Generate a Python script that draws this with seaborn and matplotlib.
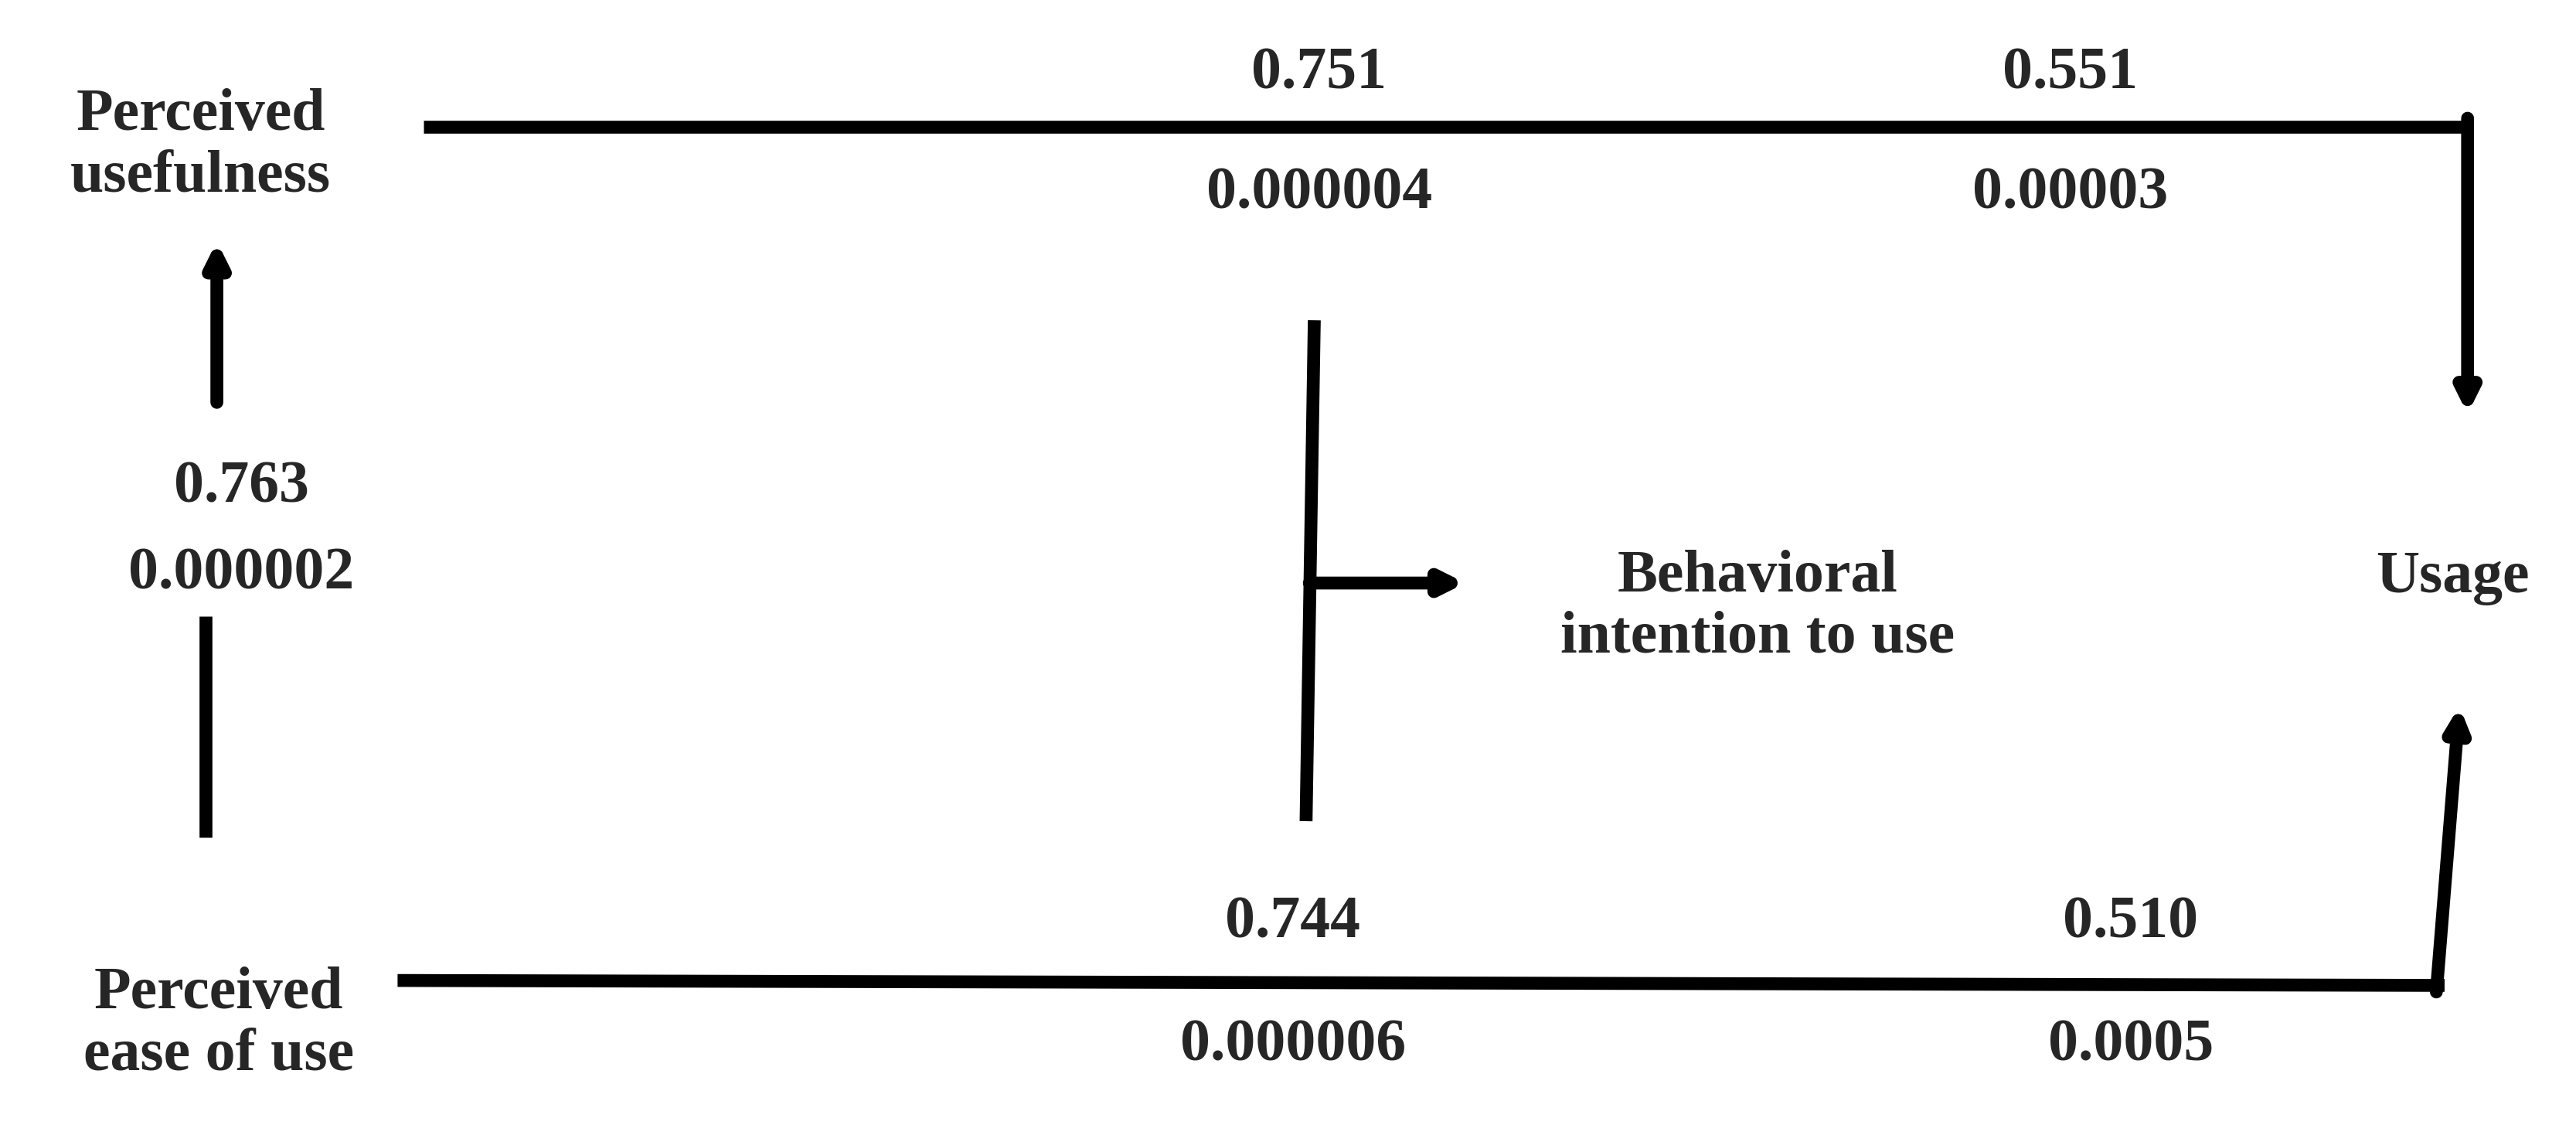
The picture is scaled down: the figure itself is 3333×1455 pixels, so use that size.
import matplotlib
matplotlib.use("Agg")
import matplotlib.pyplot as plt
import seaborn as sns

sns.set_style("white")
plt.rcParams['font.family'] = ['Liberation Serif', 'DejaVu Serif']

# path coefficients and p-values
coef_labels = ["0.751", "0.551", "0.763", "0.744", "0.510"]
p_labels = ["0.000004", "0.00003", "0.000002", "0.000006", "0.0005"]
node_labels = ["Perceived\nusefulness", "Perceived\nease of use",
               "Behavioral\nintention to use", "Usage"]

W, H = 1568, 685
fig = plt.figure(figsize=(33.33, 14.55), dpi=100)
ax = fig.add_axes([0, 0, 1, 1])
ax.set_xlim(0, W)
ax.set_ylim(H, 0)
ax.axis("off")

FS = 56
LW = 12
kw = dict(fontsize=FS, fontweight="bold", ha="center", va="center", linespacing=1.15)
arrow = dict(arrowstyle="-|>,head_length=1.6,head_width=0.8", color="black", lw=LW,
             shrinkA=0, shrinkB=0)

# nodes
ax.text(122, 89, node_labels[0], **kw)
ax.text(133, 624, node_labels[1], **kw)
ax.text(1070, 370, node_labels[2], **kw)
ax.text(1493, 352, node_labels[3], **kw)

# top path: usefulness -> usage
ax.plot([258, 1502], [77, 77], color="black", lw=LW, solid_capstyle="butt")
ax.annotate("", xy=(1502, 252), xytext=(1502, 72), arrowprops=arrow)
ax.text(803, 45, coef_labels[0], **kw)
ax.text(803, 118, p_labels[0], **kw)
ax.text(1260, 45, coef_labels[1], **kw)
ax.text(1260, 118, p_labels[1], **kw)

# ease -> usefulness
ax.annotate("", xy=(132, 147), xytext=(132, 245), arrowprops=arrow)
ax.plot([125, 125], [375, 510], color="black", lw=LW, solid_capstyle="butt")
ax.text(147, 297, coef_labels[2], **kw)
ax.text(147, 350, p_labels[2], **kw)

# both -> behavioral intention
ax.plot([800, 795], [195, 500], color="black", lw=LW, solid_capstyle="butt")
ax.annotate("", xy=(892, 355), xytext=(797, 355), arrowprops=arrow)

# bottom path: ease -> usage
ax.plot([242, 1488], [597, 600], color="black", lw=LW, solid_capstyle="butt")
ax.annotate("", xy=(1497, 430), xytext=(1483, 604), arrowprops=arrow)
ax.text(787, 562, coef_labels[3], **kw)
ax.text(787, 637, p_labels[3], **kw)
ax.text(1297, 562, coef_labels[4], **kw)
ax.text(1297, 637, p_labels[4], **kw)

fig.savefig("out.png", dpi=100, facecolor="white")
